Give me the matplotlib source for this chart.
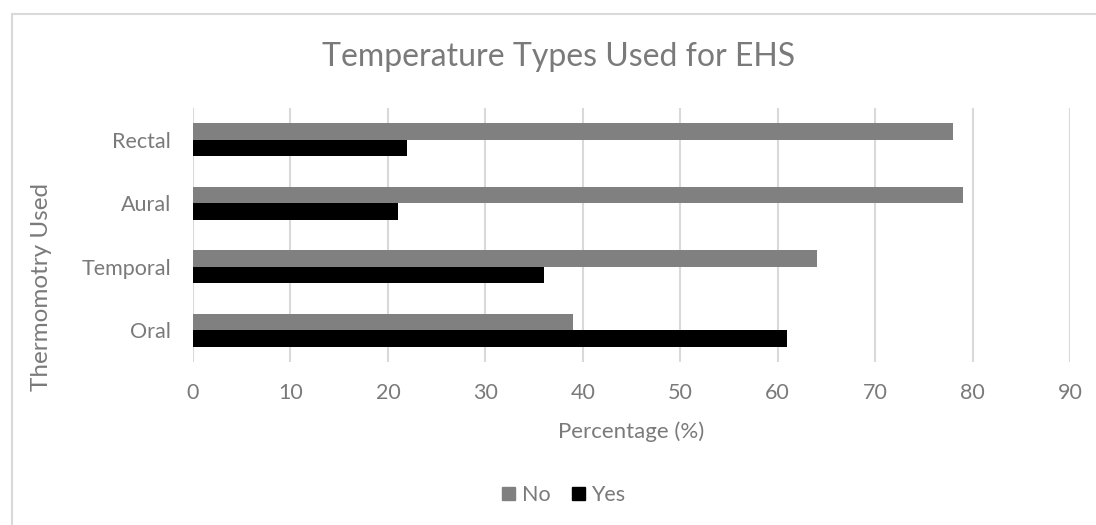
import matplotlib
matplotlib.use("Agg")
import matplotlib.pyplot as plt
from matplotlib.patches import Patch, Rectangle
import numpy as np

categories = ["Oral", "Temporal", "Aural", "Rectal"]
no_values = [39, 64, 79, 78]
yes_values = [61, 36, 21, 22]
x_ticks = [0, 10, 20, 30, 40, 50, 60, 70, 80, 90]

plt.rcParams['font.family'] = ['Lato', 'DejaVu Sans']
TXT = '#7a7a7a'
GRID = '#d9d9d9'

W, H = 1096, 525
fig = plt.figure(figsize=(W / 100, H / 100), dpi=100)
ax = fig.add_axes([193 / W, 1 - 362 / H, (1070 - 193) / W, (362 - 108) / H])

y = np.arange(len(categories))
bh = 0.26
ax.barh(y + bh / 2, no_values, height=bh, color='#808080', label='No', zorder=3)
ax.barh(y - bh / 2, yes_values, height=bh, color='#000000', label='Yes', zorder=3)

ax.set_xlim(0, 90)
ax.set_ylim(-0.5, len(categories) - 0.5)
ax.set_xticks(x_ticks)
ax.set_yticks(y)
ax.set_yticklabels(categories)
ax.grid(axis='x', color=GRID, linewidth=1.5, zorder=0)
ax.grid(axis='y', visible=False)
for s in ax.spines.values():
    s.set_visible(False)
ax.tick_params(axis='both', length=0, colors=TXT, labelsize=15.5)
ax.tick_params(axis='y', pad=16)
ax.tick_params(axis='x', pad=15)

fig.text(559 / W, 1 - 57 / H, "Temperature Types Used for EHS", ha='center', va='center',
         fontsize=23, color=TXT)
fig.text(631 / W, 1 - 432 / H, "Percentage (%)", ha='center', va='center',
         fontsize=16, color=TXT)
fig.text(42 / W, 1 - 287 / H, "Thermomotry Used", ha='center', va='center',
         rotation=90, fontsize=17.5, color=TXT)

handles = [Patch(color='#808080', label='No'), Patch(color='#000000', label='Yes')]
fig.legend(handles=handles, loc='center', bbox_to_anchor=(564 / W, 1 - 495 / H), ncol=2,
           frameon=False, fontsize=15.5, labelcolor=TXT, handlelength=0.6, handleheight=0.6,
           handletextpad=0.3, columnspacing=1.0)

# chart border (left and top visible)
fig.add_artist(Rectangle((11.5 / W, -0.1), 1.2, 1 - 13.5 / H + 0.1, transform=fig.transFigure,
                         fill=False, edgecolor=GRID, linewidth=1.5))

fig.savefig("out.png", dpi=100)
